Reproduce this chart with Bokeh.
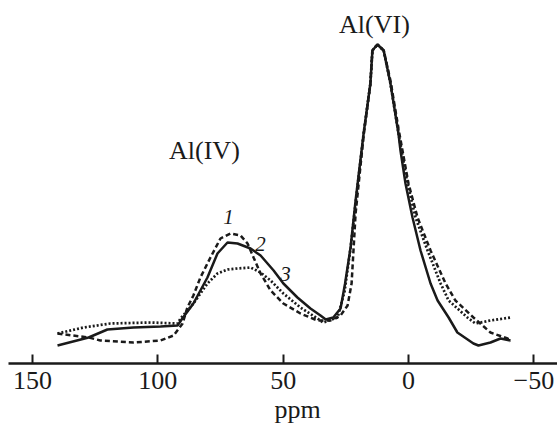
from bokeh.plotting import figure
from bokeh.models import Range1d, FixedTicker, Label, Title
from bokeh.embed import file_html
from bokeh.resources import INLINE

# Curve 1 (dashed)
ppm_1 = [140.0, 127.6, 122.9, 109.7, 98.9, 93.7, 90.1, 88.2, 85.8, 83.0, 79.0, 75.0, 71.0, 67.0,
         64.2, 61.8, 59.0, 55.0, 49.9, 43.1, 36.3, 31.1, 27.1, 24.3, 22.7, 21.1, 17.9, 15.2, 14.4,
         12.4, 9.9, 7.2, 4.0, 0.0, -3.6, -8.8, -14.8, -18.7, -25.9, -32.7, -39.5, -40.7]
int_1 = [30, 26, 23, 21, 23, 28, 40, 56, 68, 86, 106, 125, 130, 128,
         120, 106, 90, 73, 60, 50, 43, 43, 48, 58, 80, 150, 228, 280, 313,
         319, 313, 283, 235, 180, 146, 113, 80, 63, 46, 31, 25, 22]

# Curve 2 (solid)
ppm_2 = [140.0, 127.6, 120.1, 109.7, 98.9, 92.1, 90.5, 85.8, 80.2, 76.2, 72.2, 68.2, 63.0, 59.0,
         53.8, 49.9, 44.3, 39.1, 35.1, 33.0, 30.0, 27.1, 25.3, 23.1, 21.1, 17.9, 15.2, 14.4, 12.4,
         9.9, 7.2, 4.0, 3.2, 1.2, -1.6, -4.8, -8.8, -11.6, -16.0, -19.5, -25.9, -27.9, -32.7, -36.7, -40.7]
int_2 = [18, 26, 34, 36, 37, 38, 44, 60, 86, 110, 121, 120, 115, 108,
         93, 80, 66, 55, 48, 44, 46, 55, 80, 116, 163, 230, 280, 313, 319,
         313, 280, 230, 213, 180, 146, 113, 80, 63, 46, 31, 20, 18, 21, 25, 23]

# Curve 3 (dotted)
ppm_3 = [140.0, 129.6, 118.9, 102.9, 92.1, 90.9, 85.8, 80.2, 76.2, 72.2, 68.2, 63.0, 59.0, 55.0,
         49.9, 43.1, 36.3, 34.0, 28.3, 25.5, 23.1, 21.1, 17.9, 15.2, 14.4, 12.4,
         9.9, 7.2, 4.0, 0.4, -2.8, -7.6, -12.8, -16.0, -23.5, -26.7, -32.7, -40.7]
int_3 = [30, 36, 40, 41, 40, 45, 60, 80, 90, 94, 95, 96, 91, 83,
         70, 56, 45, 41, 46, 72, 116, 160, 230, 280, 313, 319,
         313, 280, 230, 180, 146, 113, 80, 63, 46, 40, 43, 46]

tick_values = [150, 100, 50, 0, -50]
tick_labels = {150: "150", 100: "100", 50: "50", 0: "0", -50: "\u221250"}

SERIF = "Liberation Serif"
INK = "#1a1a1a"

p = figure(width=557, height=425, output_backend="svg", toolbar_location=None,
           x_range=Range1d(159.55, -59.43), y_range=Range1d(0, 363),
           y_axis_location=None, min_border_left=8, min_border_right=0,
           min_border_top=0, min_border_bottom=62)
p.outline_line_color = None
p.xgrid.visible = False
p.ygrid.visible = False
p.background_fill_color = "white"
p.border_fill_color = "white"

ax = p.xaxis[0]
ax.ticker = FixedTicker(ticks=tick_values)
ax.major_label_overrides = tick_labels
ax.major_tick_in = 9
ax.major_tick_out = 0
ax.minor_tick_line_color = None
ax.axis_line_width = 2.5
ax.axis_line_color = INK
ax.major_tick_line_width = 2
ax.major_tick_line_color = INK
ax.major_label_text_font = SERIF
ax.major_label_text_font_size = "26px"
ax.major_label_text_color = INK
ax.major_label_standoff = 8

xtitle = Title(text="ppm", align="left", offset=266, standoff=3, vertical_align="bottom",
               text_font=SERIF, text_font_size="26px", text_font_style="normal",
               text_color=INK)
p.add_layout(xtitle, "below")

p.line(ppm_1, int_1, line_color=INK, line_width=2.5, line_dash="5 3")
p.line(ppm_2, int_2, line_color=INK, line_width=2.5)
p.line(ppm_3, int_3, line_color=INK, line_width=2.7, line_dash="2 2")

def lab(x, y, t, size, style="normal"):
    p.add_layout(Label(x=x, y=y, text=t, text_font=SERIF, text_font_size=size,
                       text_font_style=style, text_color=INK, text_align="center",
                       text_baseline="alphabetic"))

lab(13.6, 339, "Al(VI)", "26px")
lab(81.4, 213, "Al(IV)", "26px")
lab(71.8, 147, "1", "21px", "italic")
lab(59.0, 120, "2", "21px", "italic")
lab(49.1, 90, "3", "21px", "italic")

open("out.html", "w").write(file_html(p, INLINE))
